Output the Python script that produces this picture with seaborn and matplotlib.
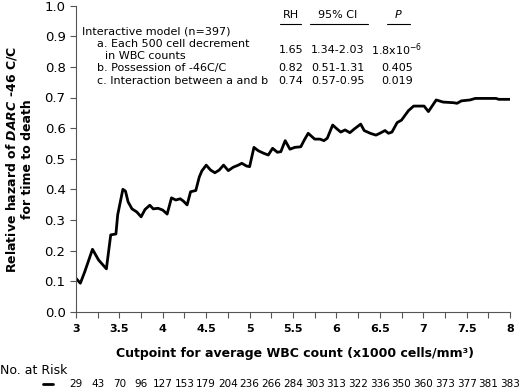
import matplotlib
matplotlib.use("Agg")
import matplotlib.pyplot as plt
from matplotlib.lines import Line2D
import matplotlib.transforms as mtransforms
import seaborn as sns
import pandas as pd

cutpoint = [3.00, 3.05, 3.10, 3.19, 3.26, 3.31, 3.35, 3.40, 3.46, 3.48, 3.54, 3.57, 3.60, 3.645,
            3.70, 3.75, 3.795, 3.85, 3.89, 3.945, 4.00, 4.05, 4.10, 4.15, 4.20, 4.235, 4.28,
            4.32, 4.38, 4.42, 4.45, 4.50, 4.55, 4.60, 4.65, 4.70, 4.755, 4.81, 4.87, 4.91,
            4.965, 5.00, 5.05, 5.10, 5.16, 5.215, 5.265, 5.32, 5.36, 5.41, 5.465, 5.52, 5.59,
            5.63, 5.675, 5.75, 5.81, 5.857, 5.895, 5.957, 6.00, 6.05, 6.10, 6.155, 6.21, 6.28,
            6.32, 6.39, 6.456, 6.50, 6.56, 6.60, 6.64, 6.70, 6.75, 6.83, 6.89, 7.01, 7.06,
            7.15, 7.23, 7.35, 7.39, 7.44, 7.54, 7.60, 7.84, 7.87, 8.00]
hazard = [0.109, 0.093, 0.13, 0.204, 0.169, 0.153, 0.140, 0.251, 0.254, 0.316, 0.40, 0.394,
          0.359, 0.336, 0.326, 0.31, 0.334, 0.348, 0.336, 0.338, 0.332, 0.319, 0.372, 0.365,
          0.369, 0.362, 0.349, 0.392, 0.396, 0.44, 0.46, 0.479, 0.463, 0.454, 0.463, 0.479,
          0.461, 0.472, 0.479, 0.485, 0.476, 0.474, 0.537, 0.526, 0.518, 0.512, 0.534, 0.521,
          0.523, 0.559, 0.531, 0.537, 0.539, 0.561, 0.583, 0.564, 0.564, 0.559, 0.567, 0.61,
          0.599, 0.587, 0.594, 0.585, 0.598, 0.613, 0.592, 0.583, 0.577, 0.583, 0.592, 0.583,
          0.587, 0.618, 0.626, 0.657, 0.672, 0.672, 0.654, 0.692, 0.685, 0.683, 0.681, 0.689,
          0.692, 0.697, 0.697, 0.694, 0.694]

risk_x = [3.0, 3.25, 3.5, 3.75, 4.0, 4.25, 4.5, 4.75, 5.0, 5.25, 5.5, 5.75, 6.0, 6.25, 6.5,
          6.75, 7.0, 7.25, 7.5, 7.75, 8.0]
at_risk = [29, 43, 70, 96, 127, 153, 179, 204, 236, 266, 284, 303, 313, 322, 336, 350, 360,
           373, 377, 381, 383]

xticks = [3, 3.5, 4, 4.5, 5, 5.5, 6, 6.5, 7, 7.5, 8]
xticklabels = ["3", "3.5", "4", "4.5", "5", "5.5", "6", "6.5", "7", "7.5", "8"]
yticks = [0.0, 0.1, 0.2, 0.3, 0.4, 0.5, 0.6, 0.7, 0.8, 0.9, 1.0]

row_labels = ["a. Each 500 cell decrement", "b. Possession of -46C/C",
              "c. Interaction between a and b"]
rh_vals = ["1.65", "0.82", "0.74"]
ci_vals = ["1.34-2.03", "0.51-1.31", "0.57-0.95"]
p_vals = ["1.8x10$^{-6}$", "0.405", "0.019"]

sns.set_style("ticks")
plt.rcParams['font.family'] = ['DejaVu Sans']
plt.rcParams['mathtext.fontset'] = 'dejavusans'
plt.rcParams['text.color'] = 'black'
plt.rcParams['xtick.labelcolor'] = 'black'
plt.rcParams['ytick.labelcolor'] = 'black'

W, H = 520, 391
fig = plt.figure(figsize=(W / 100, H / 100), dpi=100)
ax = fig.add_axes([76 / W, 1 - 311.7 / H, (510 - 76) / W, (311.7 - 5.7) / H])

df = pd.DataFrame({"x": cutpoint, "y": hazard})
sns.lineplot(data=df, x="x", y="y", ax=ax, color="black", linewidth=2.0)

ax.set_xlim(3, 8)
ax.set_ylim(0, 1.0)
ax.set_xticks(xticks)
ax.set_xticklabels(xticklabels, fontweight="bold", fontsize=8)
ax.set_xticks(risk_x, minor=True)
ax.set_yticks(yticks)
ax.set_yticklabels([f"{v:.1f}" for v in yticks], fontsize=9.5)
ax.tick_params(axis="both", which="both", direction="out", length=4, width=0.8, color="#555555")
ax.tick_params(axis="x", pad=5)
for s in ["top", "right"]:
    ax.spines[s].set_visible(False)
for s in ["left", "bottom"]:
    ax.spines[s].set_linewidth(0.8)
    ax.spines[s].set_color("#555555")
ax.set_xlabel("")
ax.set_ylabel("")

def ft(px, py, s, **kw):
    fig.text(px / W, 1 - py / H, s, **kw)

# y label
ft(19, 159, "Relative hazard of $\\mathbfit{DARC}$ -46 C/C\nfor time to death", rotation=90,
   ha="center", va="center", fontweight="bold", fontsize=9, multialignment="center",
   linespacing=1.15)
# x label
ft(295, 353, "Cutpoint for average WBC count (x1000 cells/mm³)", ha="center", va="center",
   fontweight="bold", fontsize=9)

# annotation block
fs = 8
ft(82, 32, "Interactive model (n=397)", ha="left", va="center", fontsize=fs)
ft(97, 44, row_labels[0], ha="left", va="center", fontsize=fs)
ft(105, 56, "in WBC counts", ha="left", va="center", fontsize=fs)
ft(97, 68, row_labels[1], ha="left", va="center", fontsize=fs)
ft(97, 81, row_labels[2], ha="left", va="center", fontsize=fs)

ft(291, 15, "RH", ha="center", va="center", fontsize=fs)
ft(338, 15, "95% CI", ha="center", va="center", fontsize=fs)
ft(398, 15, "P", ha="center", va="center", fontsize=fs, style="italic")
for x0, x1 in [(280, 301), (310, 368), (387, 410)]:
    fig.add_artist(Line2D([x0 / W, x1 / W], [1 - 24 / H, 1 - 24 / H], color="black",
                          linewidth=0.8, transform=fig.transFigure))

row_y = [50, 68, 81]
for yv, rh, ci, p in zip(row_y, rh_vals, ci_vals, p_vals):
    ft(291, yv, rh, ha="center", va="center", fontsize=fs)
    ft(338, yv, ci, ha="center", va="center", fontsize=fs)
    ft(397, yv, p, ha="center", va="center", fontsize=fs)

# number at risk
ft(0, 370, "No. at Risk", ha="left", va="center", fontsize=9)
fig.add_artist(Line2D([43 / W, 53 / W], [1 - 384 / H, 1 - 384 / H], color="black",
                      linewidth=2.0, transform=fig.transFigure))
trans = mtransforms.blended_transform_factory(ax.transData, fig.transFigure)
for xv, n in zip(risk_x, at_risk):
    ax.text(xv, 1 - 384 / H, str(n), transform=trans, ha="center",
            va="center", fontsize=7.5, clip_on=False)

fig.savefig("out.png", dpi=100)
